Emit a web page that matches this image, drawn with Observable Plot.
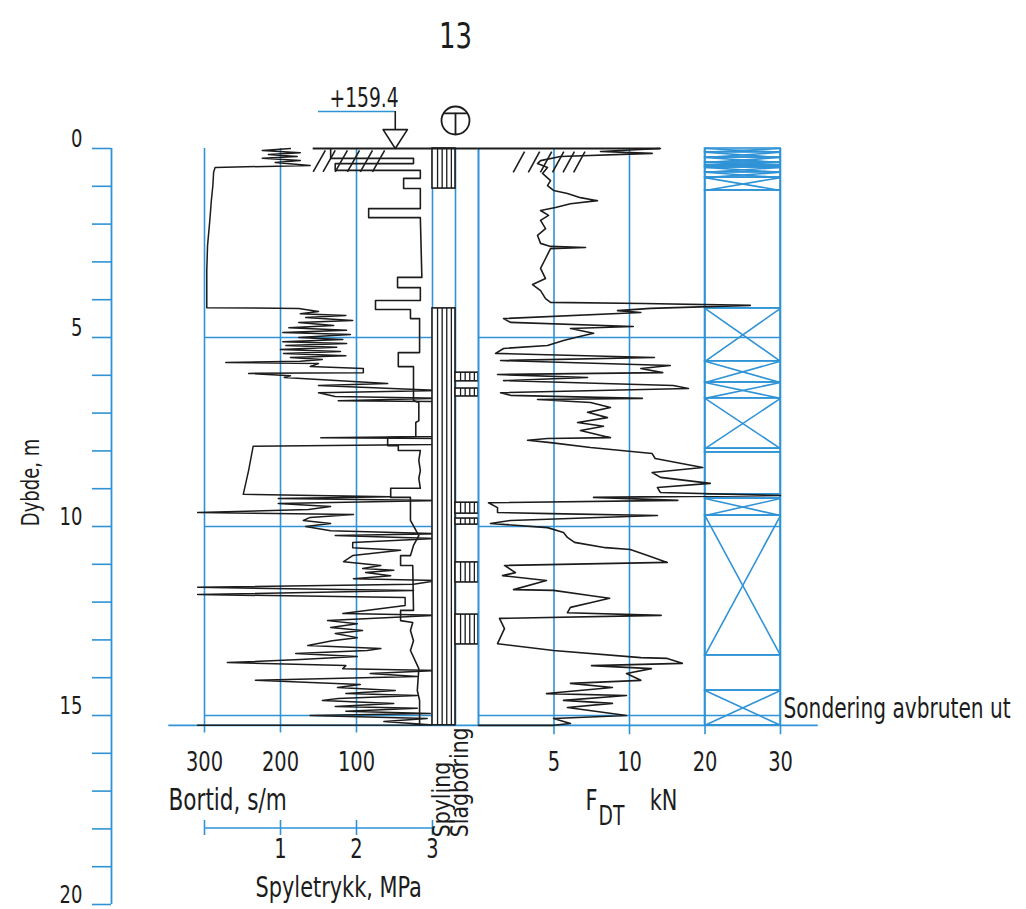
<!DOCTYPE html>
<html>
<head>
<meta charset="utf-8">
<script src="https://cdn.jsdelivr.net/npm/d3@7"></script>
<script src="https://cdn.jsdelivr.net/npm/@observablehq/plot@0.6"></script>
<style>
  body { margin: 0; background: #fff; }
  #chart { position: relative; width: 1026px; height: 909px; background: #fff; }
  #chart svg { position: absolute; left: 0; top: 0; }
</style>
</head>
<body>
<div id="chart"></div>
<script>
// ---------------- data ----------------
const pageNumber = "13";
const levelLabel = "+159.4";
const endDepth = 15.26;              // sondering avbruten
const depthTicks = [0,1,2,3,4,5,6,7,8,9,10,11,12,13,14,15,16,17,18,19,20];
const depthLabels = [0, 5, 10, 15, 20];
const depthGrid = [5, 10, 15];
const bortidTicks = [300, 200, 100];
const spyTicks = [0, 1, 2, 3];
const spyLabels = [1, 2, 3];
const fdtGrid = [5, 10, 20, 30];

// Spyletrykk, MPa  [depth m, MPa]
const spyletrykk = [[0.00,1.13],[0.05,0.76],[0.11,1.26],[0.16,0.84],[0.21,1.22],[0.26,0.76],[0.32,1.26],[0.37,0.93],[0.45,1.39],[0.50,0.14],[0.63,0.12],[0.98,0.11],[1.38,0.09],[1.90,0.07],[2.57,0.04],[3.23,0.03],[4.21,0.03],[4.23,1.24],[4.31,1.50],[4.37,1.26],[4.42,1.86],[4.47,1.33],[4.55,1.95],[4.60,1.24],[4.68,1.70],[4.74,1.11],[4.81,1.87],[4.87,1.03],[4.92,1.92],[5.00,1.24],[5.05,1.82],[5.11,1.03],[5.16,1.87],[5.21,1.07],[5.26,1.74],[5.32,1.00],[5.37,1.79],[5.42,1.04],[5.48,1.86],[5.53,1.13],[5.58,1.55],[5.63,1.26],[5.66,0.28],[5.69,1.50],[5.77,1.39],[5.82,2.09],[5.93,2.09],[5.95,0.58],[6.01,1.13],[6.06,1.05],[6.22,2.41],[6.27,1.50],[6.40,3.11],[6.46,1.50],[6.56,1.72],[6.61,3.11],[6.67,1.76],[6.69,3.00],[7.62,3.00],[7.65,1.53],[7.67,3.11],[7.83,3.00],[7.88,0.64],[8.52,0.58],[9.15,0.51],[9.21,2.45],[9.26,0.97],[9.31,3.11],[9.39,0.97],[9.47,1.66],[9.55,1.37],[9.63,-0.09],[9.68,1.96],[9.76,1.39],[9.84,1.30],[9.92,1.66],[10.00,1.33],[10.11,1.66],[10.19,3.11],[10.24,1.72],[10.32,3.04],[10.42,1.95],[10.56,1.95],[10.63,2.58],[10.77,1.95],[10.93,1.83],[11.03,2.32],[11.11,2.08],[11.16,2.49],[11.22,2.12],[11.30,2.45],[11.38,1.96],[11.43,3.07],[11.53,2.75],[11.61,-0.09],[11.69,2.75],[11.80,-0.09],[11.88,2.64],[12.09,2.64],[12.30,1.82],[12.35,3.07],[12.49,1.62],[12.57,2.01],[12.67,1.66],[12.75,2.08],[12.83,1.72],[12.94,2.01],[13.02,1.68],[13.15,1.36],[13.23,2.32],[13.28,2.14],[13.36,1.20],[13.44,2.01],[13.52,1.26],[13.60,0.30],[13.68,1.86],[13.76,1.82],[13.81,3.07],[13.89,2.18],[13.97,2.80],[14.07,0.67],[14.18,2.05],[14.26,1.75],[14.34,2.51],[14.42,1.86],[14.47,2.80],[14.55,1.76],[14.60,1.55],[14.68,2.49],[14.76,1.72],[14.81,2.80],[14.89,1.86],[14.95,2.97],[15.00,1.39],[15.08,2.93],[15.16,2.36],[15.25,3.01],[15.26,-0.09]];

// Bortid, s/m  [depth m, s/m]
const bortid = [[0.00,134],[0.26,134],[0.26,25],[0.40,25],[0.40,128],[0.58,128],[0.58,16],[0.79,16],[0.79,38],[1.06,38],[1.06,16],[1.59,16],[1.59,84],[1.83,84],[1.83,16],[3.41,14],[3.41,46],[3.68,46],[3.68,16],[4.02,16],[4.02,75],[4.26,75],[4.26,29],[4.50,29],[4.50,17],[5.40,17],[5.40,45],[5.77,45],[5.77,25],[6.67,25],[6.72,18],[7.20,18],[7.25,22],[7.62,22],[7.65,59],[7.86,59],[7.86,45],[7.99,45],[7.99,16],[8.25,18],[8.52,16],[8.73,18],[8.99,16],[8.99,55],[9.23,55],[9.23,29],[9.84,29],[10.24,18],[10.50,25],[10.77,29],[10.77,42],[11.03,42],[11.03,26],[12.22,25],[12.22,42],[12.49,42],[12.54,26],[12.75,29],[13.02,25],[13.28,29],[13.76,18],[14.34,20],[14.60,17],[15.25,17]];

// F_DT, kN  [depth m, kN]
const fdt = [[0.00,14.1],[0.08,8.08],[0.13,13.0],[0.21,5.43],[0.32,4.11],[0.40,3.91],[0.50,4.57],[0.66,4.24],[0.85,4.77],[0.98,4.57],[1.11,4.97],[1.19,5.89],[1.30,6.75],[1.38,7.88],[1.46,6.09],[1.56,5.10],[1.64,4.11],[1.77,4.64],[1.90,4.11],[2.12,4.44],[2.30,3.91],[2.51,4.11],[2.59,4.77],[2.62,7.09],[2.65,4.77],[2.91,4.44],[3.17,4.11],[3.44,4.44],[3.60,3.58],[3.76,4.11],[3.97,4.44],[4.07,4.77],[4.10,11.85],[4.15,26.0],[4.23,12.8],[4.29,9.21],[4.34,11.5],[4.50,1.66],[4.60,2.12],[4.71,10.5],[4.76,6.09],[4.89,7.62],[5.00,6.42],[5.08,5.63],[5.21,4.57],[5.29,1.66],[5.42,1.13],[5.53,13.3],[5.61,1.46],[5.74,15.4],[5.82,11.5],[5.93,14.4],[5.98,1.26],[6.06,7.22],[6.14,1.66],[6.27,15.8],[6.35,17.8],[6.46,1.46],[6.53,2.12],[6.61,11.7],[6.64,3.91],[6.72,7.42],[6.85,8.74],[6.98,7.22],[7.12,8.54],[7.25,6.56],[7.35,8.28],[7.46,6.75],[7.65,8.74],[7.67,4.57],[7.72,3.25],[7.78,4.77],[7.91,7.42],[8.07,13.0],[8.20,13.4],[8.44,19.7],[8.57,13.0],[8.70,14.1],[8.86,20.7],[8.97,13.7],[9.10,14.1],[9.18,30.0],[9.23,7.62],[9.31,16.4],[9.37,0.66],[9.50,1.26],[9.63,1.26],[9.66,4.77],[9.71,13.7],[9.84,2.12],[9.92,0.79],[10.03,4.57],[10.16,5.63],[10.29,5.89],[10.42,6.36],[10.56,8.41],[10.61,10.1],[10.77,12.4],[10.95,15.0],[11.03,1.72],[11.22,2.45],[11.30,1.59],[11.43,4.50],[11.67,2.32],[11.69,4.97],[11.83,7.48],[11.90,8.68],[12.01,7.48],[12.14,6.09],[12.28,5.89],[12.35,14.2],[12.43,1.39],[12.70,1.72],[13.10,1.26],[13.28,4.97],[13.47,11.5],[13.49,15.0],[13.62,17.0],[13.68,7.48],[13.76,12.9],[13.89,9.8],[14.07,11.5],[14.15,6.09],[14.26,8.87],[14.42,4.5],[14.47,9.8],[14.60,5.63],[14.68,8.87],[14.79,5.89],[15.00,9.8],[15.08,4.97],[15.21,6.09],[15.26,4.97],[15.26,0]];

// Spyling / Slagboring intervals [from m, to m]
const spylingBlocks = [[0, 1.06], [4.23, 15.26]];
const slagboringBlocks = [[5.93, 6.16], [6.35, 6.56], [9.37, 9.66], [9.79, 9.95], [10.95, 11.48], [12.33, 13.12]];
const stripeOffsets = [0.22, 0.42, 0.62, 0.82];

// Layer boxes (right column) [from m, to m]
const crossBoxes = [[0,0.10],[0.10,0.24],[0.24,0.37],[0.37,0.45],[0.45,0.50],[0.50,0.63],[0.63,0.77],[0.77,1.11],[4.23,5.63],[5.63,6.19],[6.19,6.61],[6.61,7.94],[9.26,9.71],[9.71,13.41],[14.34,15.26]];
const openBoxes = [[1.11,4.23],[7.94,8.04],[8.04,9.15],[9.15,9.26],[13.41,14.34]];

// ground hatch marks (bottom value of each stroke)
const hatchBortid = [157, 144, 128, 112, 95, 79];
const hatchFdt = [2.3, 3.3, 4.1, 4.9, 5.6, 6.3];

// ---------------- layout ----------------
const W = 1026, H = 909, TOP = 148, PXM = 37.8;
const BLUE = "#2f93d6", INK = "#1c1c1c";
const FONT = "'Liberation Sans Narrow', 'DejaVu Sans Condensed', 'Liberation Sans', sans-serif";
const panelBottom = TOP + endDepth * PXM;
const style = {background: "transparent", fontFamily: FONT, color: INK, overflow: "visible"};
const chart = document.getElementById("chart");
// F_DT axis: 0–10 kN at full scale, 10–30 kN at half scale
const fdtAxis = f => (f <= 10 ? f : 10 + (f - 10) / 2);
const T = {fill: INK, lineAnchor: "middle", textAnchor: "middle"};

function panel(o) {
  return Object.assign({
    width: W, height: H, marginTop: TOP, marginBottom: H - panelBottom,
    y: {domain: [0, endDepth], reverse: true, axis: null}, style
  }, o);
}

// depth axis
chart.append(Plot.plot({
  width: W, height: H, marginTop: TOP, marginBottom: H - (TOP + 20 * PXM),
  marginLeft: 92, marginRight: W - 111, style,
  x: {domain: [0, 1], axis: null},
  y: {domain: [0, 20], reverse: true, axis: null},
  marks: [
    Plot.ruleY(depthTicks, {x1: 0, x2: 1, stroke: BLUE, strokeWidth: 1.6}),
    Plot.ruleX([1], {y1: 0, y2: 20, stroke: BLUE, strokeWidth: 1.8}),
    Plot.text(depthLabels, {...T, y: d => d, frameAnchor: "left", dx: -10, dy: -10, textAnchor: "end", fontSize: 25}),
    Plot.text(["Dybde, m"], {...T, frameAnchor: "left", dx: -62, dy: -44, rotate: -90, fontSize: 25})
  ]
}));

// left panel: Bortid (reversed scale) + grid + level marker
chart.append(Plot.plot(panel({
  marginLeft: 204, marginRight: W - 432,
  x: {domain: [300, 0], axis: null},
  marks: [
    Plot.ruleX(bortidTicks, {y1: 0, y2: endDepth + 0.2, stroke: BLUE, strokeWidth: 1.6}),
    Plot.ruleY(depthGrid, {x1: 300, x2: 0, stroke: BLUE, strokeWidth: 1.6}),
    Plot.ruleY([endDepth], {x1: 347, x2: 0, stroke: BLUE, strokeWidth: 1.6}),
    Plot.ruleY([0], {x1: 157, x2: 0, stroke: INK, strokeWidth: 2}),
    Plot.link(hatchBortid, {x1: d => d, y1: 0.62, x2: d => d - 16, y2: 0.05, stroke: INK, strokeWidth: 1.6}),
    Plot.line(bortid, {x: d => d[1], y: d => d[0], stroke: INK, strokeWidth: 1.6}),
    // level marker
    Plot.ruleY([-0.98], {x1: 150, x2: 49, stroke: BLUE, strokeWidth: 1.6}),
    Plot.ruleX([49], {y1: -0.98, y2: -0.5, stroke: INK, strokeWidth: 1.6}),
    Plot.line([[65, -0.5], [33, -0.5], [49, 0], [65, -0.5]], {x: d => d[0], y: d => d[1], stroke: INK, strokeWidth: 1.6}),
    Plot.text([levelLabel], {...T, x: () => 90, y: () => -1.32, fontSize: 26}),
    // axis labels
    Plot.text(bortidTicks, {...T, x: d => d, frameAnchor: "bottom", dy: 37, fontSize: 27}),
    Plot.text(["Bortid, s/m"], {...T, frameAnchor: "bottom-left", dx: -36, dy: 75, textAnchor: "start", fontSize: 30})
  ]
})));

// left panel: Spyletrykk curve
chart.append(Plot.plot(panel({
  marginLeft: 204, marginRight: W - 432,
  x: {domain: [0, 3], axis: null},
  marks: [
    Plot.line(spyletrykk, {x: d => d[1], y: d => d[0], stroke: INK, strokeWidth: 1.5})
  ]
})));

// Spyletrykk axis
chart.append(Plot.plot({
  width: W, height: H, marginTop: 820, marginBottom: H - 835,
  marginLeft: 204, marginRight: W - 432, style,
  x: {domain: [0, 3], axis: null},
  y: {domain: [0, 1], axis: null},
  marks: [
    Plot.ruleY([0.5], {x1: 0, x2: 3, stroke: BLUE, strokeWidth: 1.6}),
    Plot.ruleX(spyTicks, {stroke: BLUE, strokeWidth: 1.6}),
    Plot.text(spyLabels, {...T, x: d => d, frameAnchor: "bottom", dy: 14, fontSize: 27}),
    Plot.text(["Spyletrykk, MPa"], {...T, frameAnchor: "bottom-left", dx: 51, dy: 52, textAnchor: "start", fontSize: 29})
  ]
}));

// Spyling / Slagboring columns
const stripes = (blocks, base) => blocks.flatMap(b => stripeOffsets.map(o => ({x: base + o, y1: b[0], y2: b[1]})));
chart.append(Plot.plot(panel({
  marginLeft: 432, marginRight: W - 478,
  x: {domain: [0, 2], axis: null},
  marks: [
    Plot.ruleX([0, 1, 2], {y1: 0, y2: endDepth, stroke: BLUE, strokeWidth: 1.6}),
    Plot.ruleY([endDepth], {x1: 0, x2: 2, stroke: BLUE, strokeWidth: 1.6}),
    Plot.rect(spylingBlocks, {x1: 0, x2: 1, y1: d => d[0], y2: d => d[1], fill: "white", stroke: INK, strokeWidth: 1.6}),
    Plot.ruleX(stripes(spylingBlocks, 0), {x: "x", y1: "y1", y2: "y2", stroke: INK, strokeWidth: 1.3}),
    Plot.rect(slagboringBlocks, {x1: 1, x2: 2, y1: d => d[0], y2: d => d[1], fill: "white", stroke: INK, strokeWidth: 1.6}),
    Plot.ruleX(stripes(slagboringBlocks, 1), {x: "x", y1: "y1", y2: "y2", stroke: INK, strokeWidth: 1.3}),
    Plot.ruleY([0], {x1: 0, x2: 2, stroke: INK, strokeWidth: 2}),
    Plot.text([pageNumber], {...T, frameAnchor: "top", dy: -112, fontSize: 36}),
    Plot.dot([0], {frameAnchor: "top", dy: -28, r: 14, stroke: INK, strokeWidth: 1.8, fill: "none"}),
    Plot.ruleY([-0.93], {x1: 0.48, x2: 1.52, stroke: INK, strokeWidth: 1.8}),
    Plot.ruleX([1], {y1: -0.93, y2: -0.37, stroke: INK, strokeWidth: 1.8}),
    Plot.text(["Spyling"], {...T, frameAnchor: "bottom", dx: -13, dy: 112, rotate: -90, textAnchor: "start", fontSize: 24}),
    Plot.text(["Slagboring"], {...T, frameAnchor: "bottom", dx: 5, dy: 112, rotate: -90, textAnchor: "start", fontSize: 24})
  ]
})));

// right panel: F_DT and layer boxes
chart.append(Plot.plot(panel({
  marginLeft: 478, marginRight: W - 780,
  x: {domain: [0, 20], transform: fdtAxis, axis: null},
  marks: [
    Plot.ruleX(fdtGrid, {y1: 0, y2: endDepth + 0.25, stroke: BLUE, strokeWidth: 1.6}),
    Plot.ruleX([0], {y1: 0, y2: endDepth, stroke: BLUE, strokeWidth: 1.6}),
    Plot.ruleY(depthGrid, {x1: 0, x2: 30, stroke: BLUE, strokeWidth: 1.6}),
    Plot.ruleY([endDepth], {x1: 0, x2: 35, stroke: BLUE, strokeWidth: 1.6}),
    Plot.rect(crossBoxes.concat(openBoxes), {x1: 20, x2: 30, y1: d => d[0], y2: d => d[1], fill: "none", stroke: BLUE, strokeWidth: 1.6}),
    Plot.link(crossBoxes, {x1: 20, y1: d => d[0], x2: 30, y2: d => d[1], stroke: BLUE, strokeWidth: 1.6}),
    Plot.link(crossBoxes, {x1: 30, y1: d => d[0], x2: 20, y2: d => d[1], stroke: BLUE, strokeWidth: 1.6}),
    Plot.ruleY([0], {x1: 0, x2: 14.1, stroke: INK, strokeWidth: 2}),
    Plot.link(hatchFdt, {x1: d => d, y1: 0.63, x2: d => d + 0.75, y2: 0.08, stroke: INK, strokeWidth: 1.6}),
    Plot.line(fdt, {x: d => d[1], y: d => d[0], stroke: INK, strokeWidth: 1.6}),
    Plot.text(fdtGrid, {...T, x: d => d, frameAnchor: "bottom", dy: 37, fontSize: 27}),
    Plot.text(["F"], {...T, frameAnchor: "bottom-left", dx: 113, dy: 75, fontSize: 29}),
    Plot.text(["DT"], {...T, frameAnchor: "bottom-left", dx: 133, dy: 91, fontSize: 26}),
    Plot.text(["kN"], {...T, frameAnchor: "bottom-left", dx: 185, dy: 75, fontSize: 29}),
    Plot.text(["Sondering avbruten ut"], {...T, frameAnchor: "bottom-right", dx: 3, dy: -16, textAnchor: "start", fontSize: 28})
  ]
})));

// narrow technical lettering: condense every label along its baseline
const wideSpaced = new Set(["Spyling", "Slagboring"]);
chart.querySelectorAll("text").forEach(t => {
  const k = wideSpaced.has(t.textContent) ? 0.95 : 0.8;
  const x = +t.getAttribute("x") || 0, y = +t.getAttribute("y") || 0;
  if (x || y) {
    t.removeAttribute("x"); t.removeAttribute("y");
    t.setAttribute("transform", `translate(${x},${y}) ` + (t.getAttribute("transform") || ""));
  }
  t.setAttribute("transform", (t.getAttribute("transform") || "") + ` scale(${k},1)`);
});
</script>
</body>
</html>
